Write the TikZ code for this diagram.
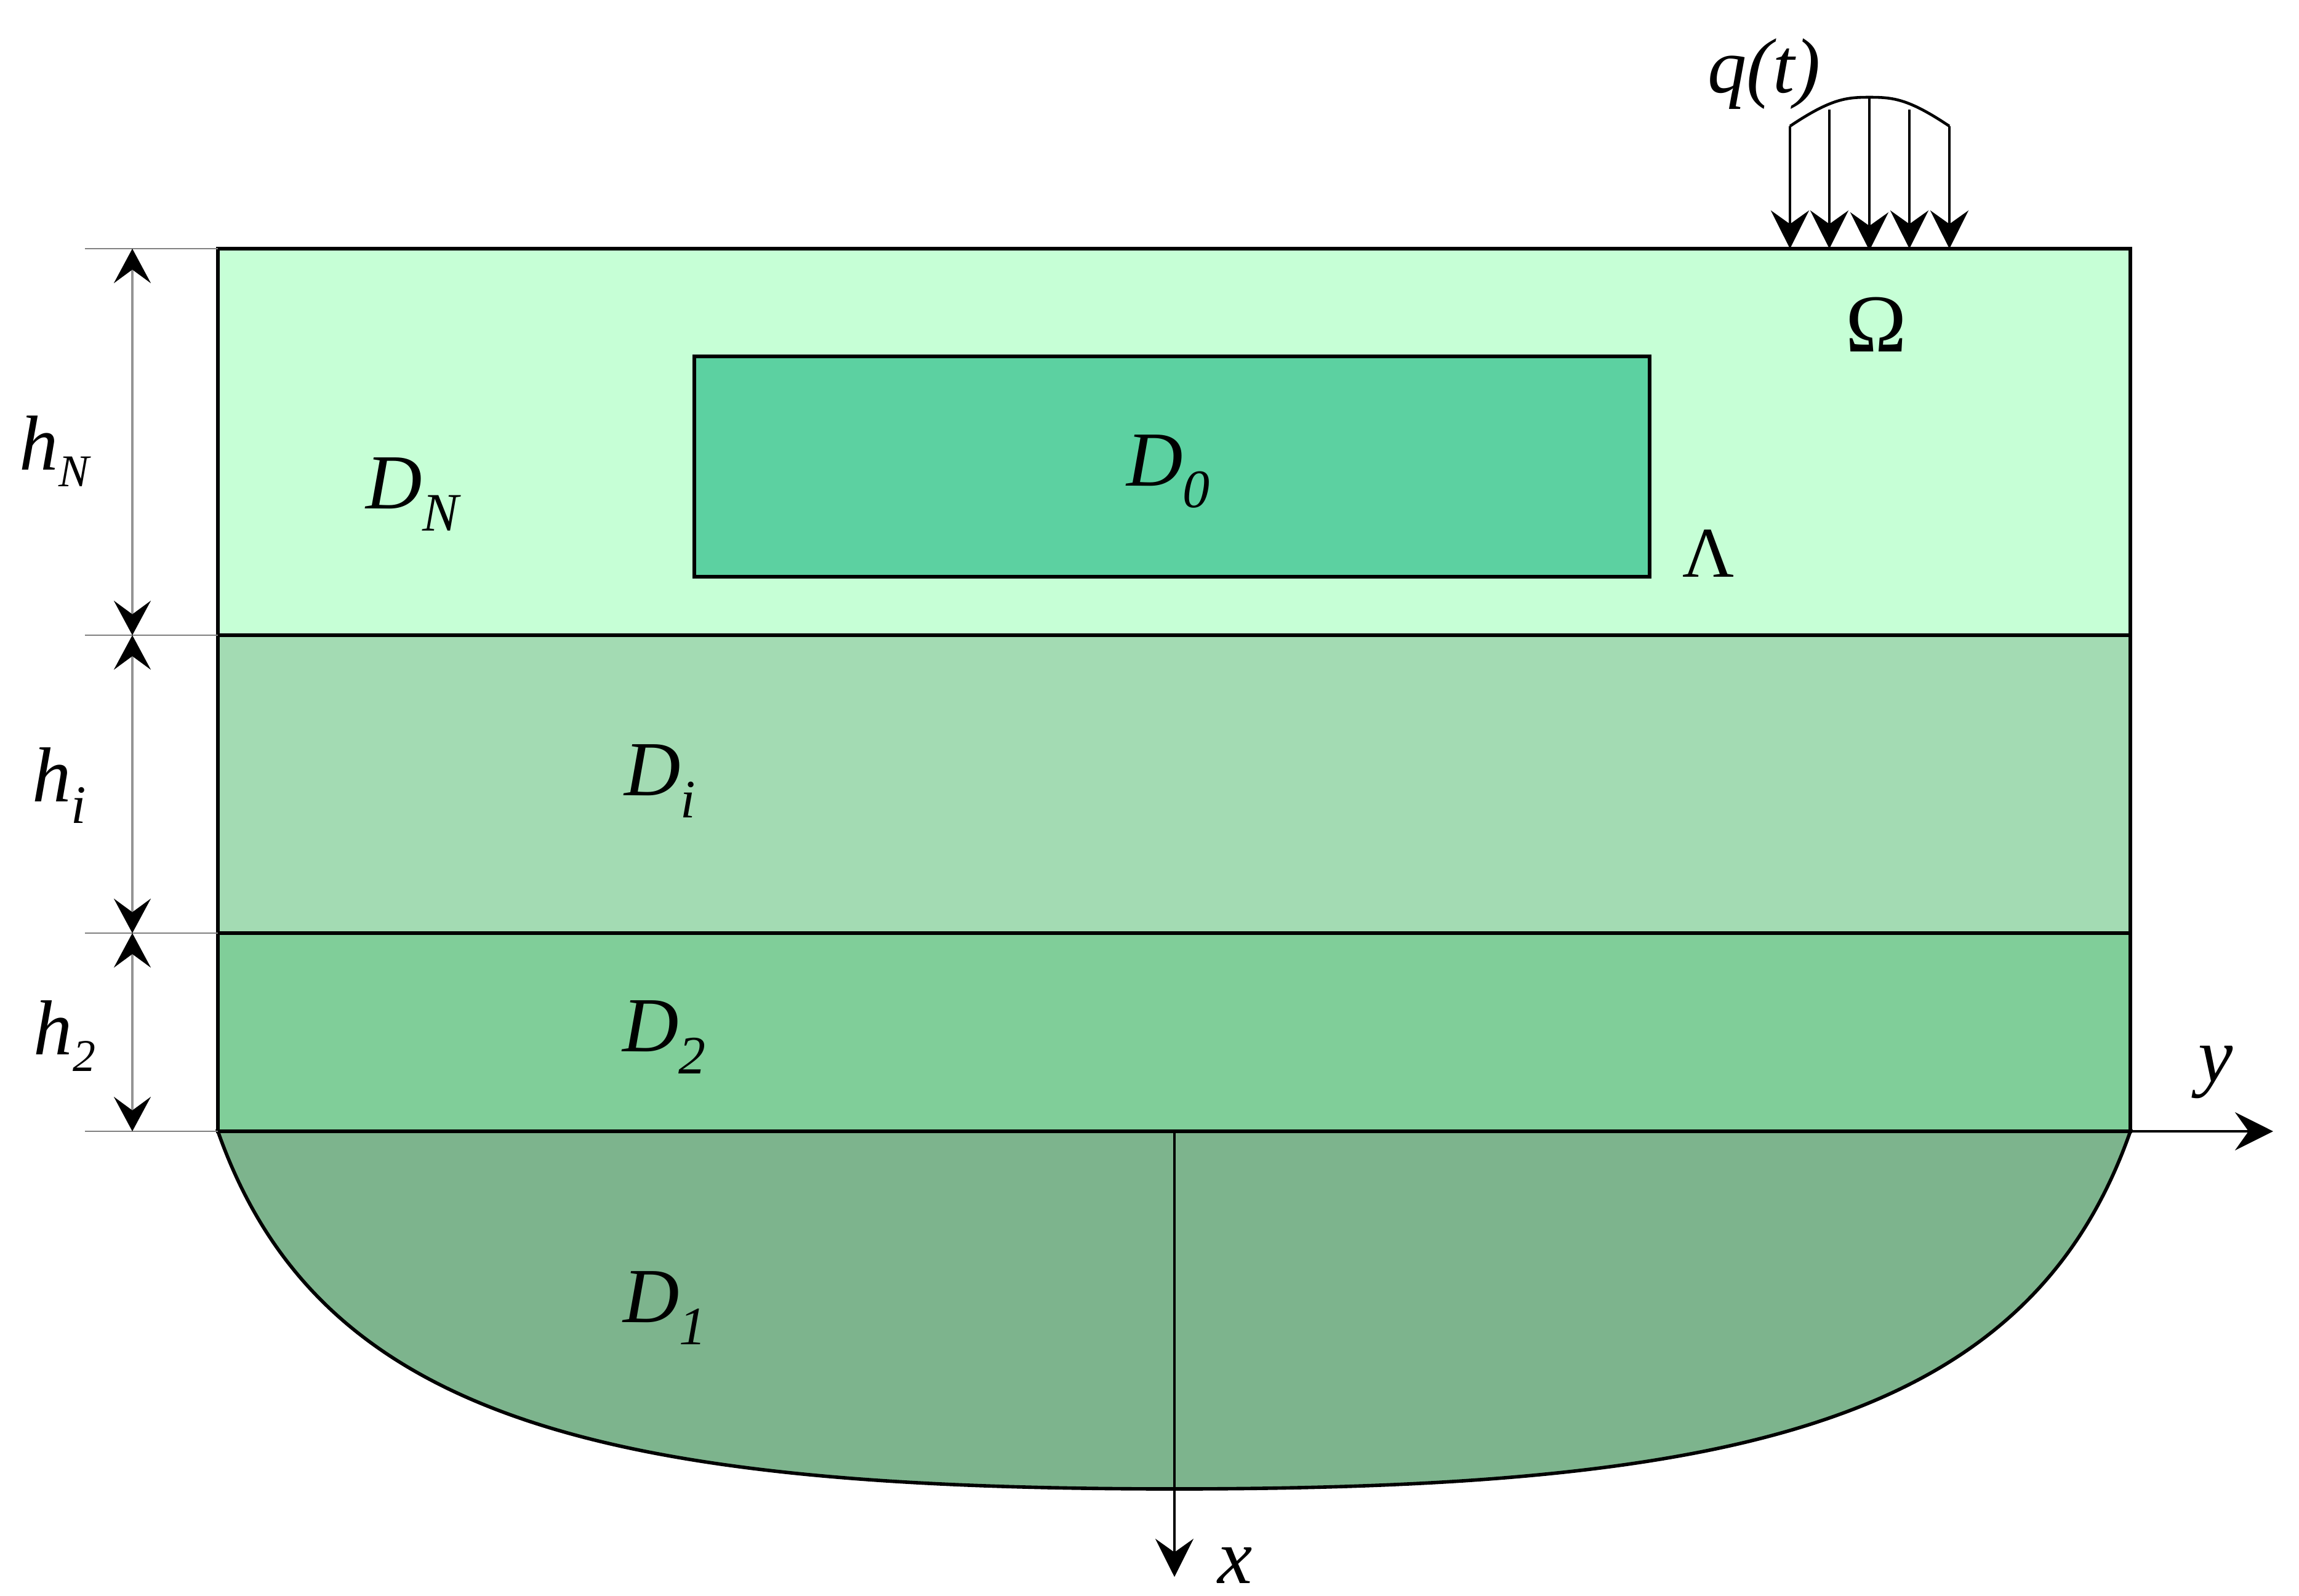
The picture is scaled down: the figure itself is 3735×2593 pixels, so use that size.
\documentclass[tikz,border=0pt]{standalone}
\usepackage{fontspec}
\setmainfont{Liberation Serif}
\usetikzlibrary{arrows.meta}
\definecolor{cN}{HTML}{C6FFD6}
\definecolor{cZero}{HTML}{5CD1A1}
\definecolor{cI}{HTML}{A3DBB3}
\definecolor{cTwo}{HTML}{80CE99}
\definecolor{cOne}{HTML}{7DB48D}
\newcommand{\lab}[2]{{\fontsize{36}{40}\selectfont\itshape #1\raisebox{-0.28em}{\fontsize{25}{28}\selectfont #2}}}
\newcommand{\labs}[2]{{\fontsize{36}{40}\selectfont\itshape #1\raisebox{-0.22em}{\fontsize{21}{24}\selectfont #2}}}
\tikzset{
  region/.style={draw=black,line width=1.6pt},
  tipstyle/.style={-{Stealth[length=0.62cm,width=0.62cm,inset=0.22cm]}},
  dimline/.style={draw=black!42,line width=0.9pt,{Stealth[black,length=0.56cm,width=0.6cm,inset=0.22cm]}-{Stealth[black,length=0.56cm,width=0.6cm,inset=0.22cm]}},
  extline/.style={draw=black!50,line width=0.5pt},
  axisline/.style={draw=black,line width=1pt,tipstyle},
  loadline/.style={draw=black,line width=1.3pt,tipstyle},
  txt/.style={inner sep=0pt,font=\fontsize{36}{40}\selectfont\itshape},
  upr/.style={inner sep=0pt,font=\fontsize{38}{40}\selectfont},
}
\begin{document}
\begin{tikzpicture}[x=0.01cm,y=-0.01cm]
\useasboundingbox (0,0) rectangle (3735,2593);
% corners
\coordinate (TL) at (354,404); \coordinate (TR) at (3461,404);
\coordinate (AL) at (354,1032); \coordinate (AR) at (3461,1032);
\coordinate (BL) at (354,1516); \coordinate (BR) at (3461,1516);
\coordinate (CL) at (354,1838); \coordinate (CR) at (3461,1838);
% regions
\path[fill=cN,region] (TL) rectangle (AR);
\path[fill=cI,region] (AL) rectangle (BR);
\path[fill=cTwo,region] (BL) rectangle (CR);
\path[fill=cOne,region] (CL) .. controls (520,2310) and (990,2419) .. (1908,2419)
   .. controls (2826,2419) and (3296,2310) .. (CR) -- cycle;
\path[fill=cZero,region] (1128,579) rectangle (2680,937);
% extension lines
\coordinate (E1) at (138,404); \coordinate (E2) at (138,1032);
\coordinate (E3) at (138,1516); \coordinate (E4) at (138,1838);
\draw[extline] (E1) -- (TL); \draw[extline] (E2) -- (AL);
\draw[extline] (E3) -- (BL); \draw[extline] (E4) -- (CL);
% dimension lines
\coordinate (D1) at (215,404); \coordinate (D2) at (215,1032);
\coordinate (D3) at (215,1516); \coordinate (D4) at (215,1838);
\draw[dimline] (D1) -- (D2); \draw[dimline] (D2) -- (D3); \draw[dimline] (D3) -- (D4);
% axes
\coordinate (O) at (1908,1838); \coordinate (Xend) at (1908,2562);
\coordinate (Yend) at (3693,1838);
\draw[axisline] (O) -- (Xend);
\draw[axisline] (CR) -- (Yend);
% load
\coordinate (L1) at (2908,205); \coordinate (L2) at (2972,178); \coordinate (L3) at (3037,158);
\coordinate (L4) at (3102,178); \coordinate (L5) at (3167,205);
\coordinate (G1) at (2908,404); \coordinate (G2) at (2972,404); \coordinate (G3) at (3037,407);
\coordinate (G4) at (3102,404); \coordinate (G5) at (3167,404);
\draw[black,line width=1.3pt] (L1) .. controls (2975,160) and (3000,158) .. (L3)
   .. controls (3075,158) and (3100,160) .. (L5);
\foreach \a/\b in {L1/G1,L2/G2,L3/G3,L4/G4,L5/G5} \draw[loadline] (\a) -- (\b);
% labels
\node[txt] (q) at (2866,120) {q(t)};
\node[upr] (om) at (3048,527) {Ω};
\node[inner sep=0pt,font=\fontsize{33}{36}\selectfont] (la) at (2776,899) {Λ};
\node[inner sep=0pt] (d0) at (1898,766) {\lab{D}{0}};
\node[inner sep=0pt] (dn) at (670,803) {\lab{D}{N}};
\node[inner sep=0pt] (di) at (1072,1269) {\lab{D}{i}};
\node[inner sep=0pt] (d2) at (1079,1685) {\lab{D}{2}};
\node[inner sep=0pt] (d1) at (1080,2125) {\lab{D}{1}};
\node[inner sep=0pt] (hn) at (88,733) {\labs{h}{N}};
\node[inner sep=0pt] (hi) at (96,1276) {\lab{h}{i}};
\node[inner sep=0pt] (h2) at (105,1683) {\labs{h}{2}};
\node[txt] (y) at (3600,1742) {y};
\node[txt] (x) at (2007,2543) {x};
\end{tikzpicture}
\end{document}
